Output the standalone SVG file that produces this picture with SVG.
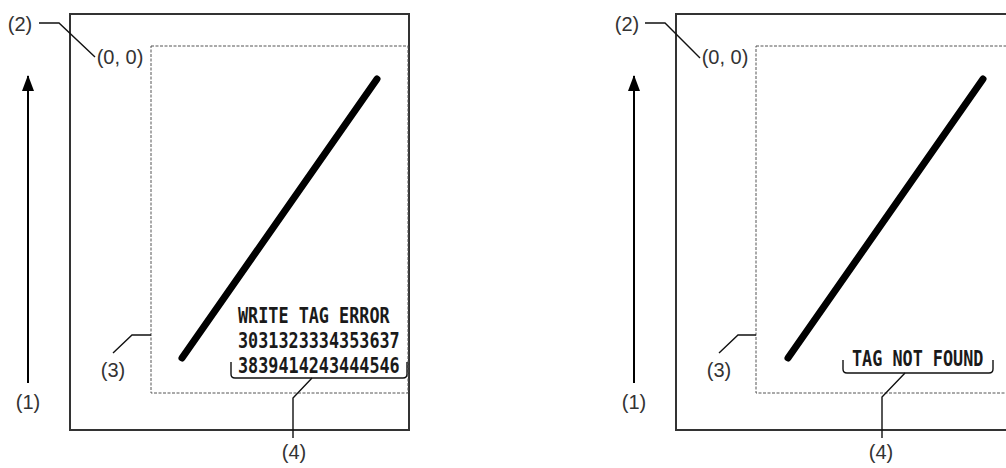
<svg xmlns="http://www.w3.org/2000/svg" width="1006" height="468" viewBox="0 0 1006 468">
<style>
.frame{fill:none;stroke:#333;stroke-width:2}
.area{fill:none;stroke:#555;stroke-width:1;stroke-dasharray:3 1.5}
.lead{fill:none;stroke:#111;stroke-width:1.4}
.diag{stroke:#000;stroke-width:7;stroke-linecap:round}
.arrow{stroke:#000;stroke-width:2}
.lbl{font-family:"Liberation Sans",Arial,sans-serif;font-size:20px;fill:#333;text-anchor:middle}
.mono{font-family:"DejaVu Sans Mono","Liberation Mono",monospace;font-size:21px;font-weight:bold;fill:#1a1a1a}
</style>
<defs>
<marker id="ah" viewBox="0 0 16 12" refX="15" refY="6" markerWidth="16" markerHeight="12" markerUnits="userSpaceOnUse" orient="auto">
<path d="M0,0 L16,6 L0,12 Z" fill="#000"/>
</marker>
</defs>
<g id="panel-left">
<rect class="frame" x="70" y="14" width="339" height="416"/>
<rect class="area" x="151" y="46" width="257" height="347"/>
<line class="diag" x1="182" y1="358" x2="377" y2="79"/>
<g id="msg-left">
<text class="mono" transform="translate(238,323) scale(0.8,1)">WRITE TAG ERROR</text>
<text class="mono" transform="translate(238,348) scale(0.8,1)">3031323334353637</text>
<text class="mono" transform="translate(238,373) scale(0.8,1)">3839414243444546</text>
</g>
</g>
<g id="panel-right">
<rect class="frame" x="676" y="14" width="339" height="416"/>
<rect class="area" x="756" y="46" width="259" height="347"/>
<line class="diag" x1="788" y1="358" x2="983" y2="79"/>
<g id="msg-right">
<text class="mono" transform="translate(852,366) scale(0.8,1)">TAG NOT FOUND</text>
</g>
</g>
<g id="connectors">
<line class="arrow" x1="28" y1="383" x2="28" y2="76" marker-end="url(#ah)"/>
<line class="arrow" x1="634" y1="383" x2="634" y2="76" marker-end="url(#ah)"/>
<path class="lead" d="M39,23 H59 L95,57"/>
<path class="lead" d="M645,23 H665 L700,58"/>
<path class="lead" d="M113,353 L132,335 H151"/>
<path class="lead" d="M719,353 L738,335 H756"/>
<path class="lead" d="M231,362 V374 Q231,378 235,378 H403 Q407,378 407,374 V362"/>
<path class="lead" d="M312,378 L293,398 V438"/>
<path class="lead" d="M843,360 V369 Q843,373 847,373 H989 Q993,373 993,369 V360"/>
<path class="lead" d="M905,373 L882,397 V438"/>
</g>
<g id="labels">
<text class="lbl" x="20" y="31">(2)</text>
<text class="lbl" x="120" y="64">(0, 0)</text>
<text class="lbl" x="28" y="409">(1)</text>
<text class="lbl" x="113" y="377">(3)</text>
<text class="lbl" x="294" y="459">(4)</text>
<text class="lbl" x="627" y="31">(2)</text>
<text class="lbl" x="725" y="64">(0, 0)</text>
<text class="lbl" x="634" y="409">(1)</text>
<text class="lbl" x="719" y="377">(3)</text>
<text class="lbl" x="881" y="459">(4)</text>
</g>
</svg>
